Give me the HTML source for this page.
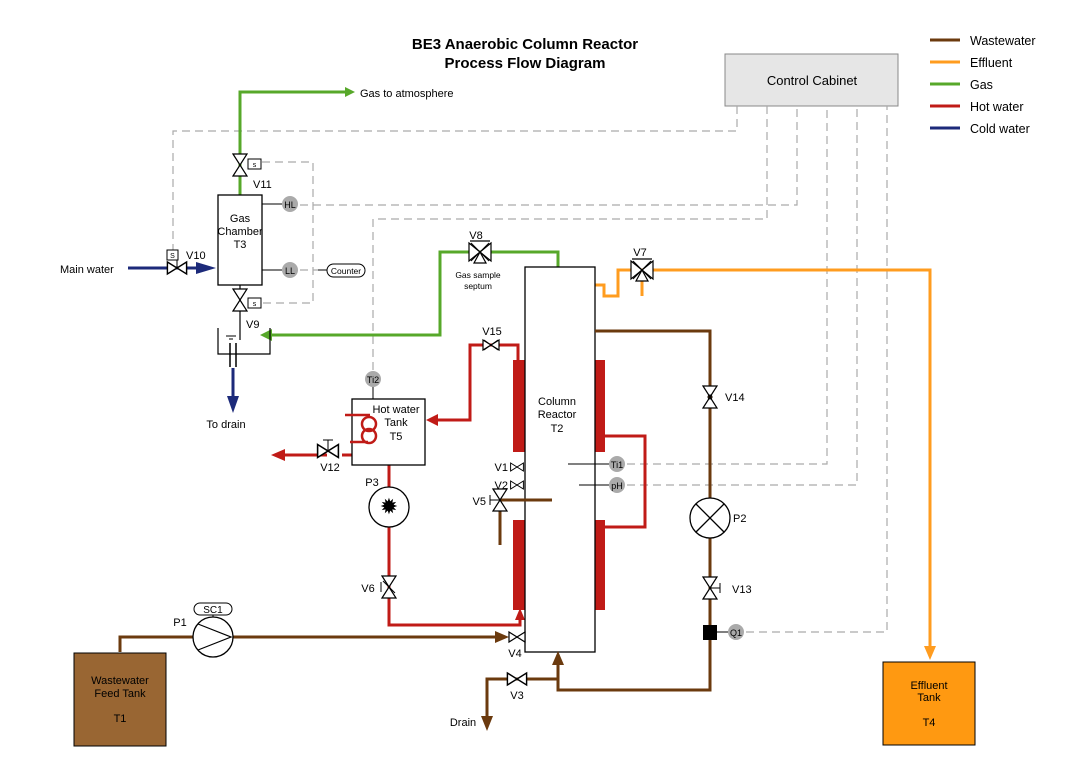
<!DOCTYPE html>
<html><head><meta charset="utf-8"><style>
body{margin:0;background:#fff}
svg{display:block;font-family:"Liberation Sans",Arial,sans-serif}
</style></head><body>
<svg width="1088" height="766" viewBox="0 0 1088 766" xmlns="http://www.w3.org/2000/svg">
<defs>
<g id="vh"><polygon points="-8,-5 0,0 -8,5" fill="#fff" stroke="#000" stroke-width="1.2"/><polygon points="8,-5 0,0 8,5" fill="#fff" stroke="#000" stroke-width="1.2"/></g>
<g id="vv"><polygon points="-7,-11 0,0 7,-11" fill="#fff" stroke="#000" stroke-width="1.2"/><polygon points="-7,11 0,0 7,11" fill="#fff" stroke="#000" stroke-width="1.2"/></g>
<g id="v3"><polygon points="-11,-9 0,0 -11,9" fill="#fff" stroke="#000" stroke-width="1.2"/><polygon points="11,-9 0,0 11,9" fill="#fff" stroke="#000" stroke-width="1.2"/><polygon points="-6,11 0,0 6,11" fill="#fff" stroke="#000" stroke-width="1.2"/><line x1="-10" y1="-11" x2="10" y2="-11" stroke="#000" stroke-width="1.2"/><line x1="-9" y1="-9" x2="9" y2="9" stroke="#000"/><line x1="9" y1="-9" x2="-9" y2="9" stroke="#000"/></g>
</defs>
<rect width="1088" height="766" fill="#fff"/>
<text x="525" y="49" font-size="15" font-weight="bold" text-anchor="middle">BE3 Anaerobic Column Reactor</text>
<text x="525" y="68" font-size="15" font-weight="bold" text-anchor="middle">Process Flow Diagram</text>
<g stroke-width="3">
<line x1="930" y1="40" x2="960" y2="40" stroke="#6b3a0e"/>
<line x1="930" y1="62" x2="960" y2="62" stroke="#ff9c1f"/>
<line x1="930" y1="84" x2="960" y2="84" stroke="#57a82a"/>
<line x1="930" y1="106" x2="960" y2="106" stroke="#c01b17"/>
<line x1="930" y1="128" x2="960" y2="128" stroke="#1c2a7a"/>
</g>
<g font-size="12.5"><text x="970" y="45">Wastewater</text><text x="970" y="67">Effluent</text><text x="970" y="89">Gas</text><text x="970" y="111">Hot water</text><text x="970" y="133">Cold water</text></g>
<rect x="725" y="54" width="173" height="52" fill="#e6e6e6" stroke="#888"/>
<text x="812" y="85" font-size="13" text-anchor="middle">Control Cabinet</text>
<g fill="none" stroke="#aaa" stroke-width="1.2" stroke-dasharray="8,5">
<polyline points="737,106 737,131 173,131 173,250"/>
<polyline points="262,162 313,162 313,303 262,303"/>
<polyline points="300,205 797,205 797,106"/>
<polyline points="767,106 767,219 373,219 373,370"/>
<polyline points="300,270 318,270"/>
<polyline points="627,464 827,464 827,106"/>
<polyline points="627,485 857,485 857,106"/>
<polyline points="746,632 887,632 887,106"/>
</g>
<g fill="none" stroke="#57a82a" stroke-width="3">
<polyline points="240,195 240,92 345,92"/>
<polyline points="558,267 558,252 440,252 440,335 270,335"/>
</g>
<polygon points="345,87 355,92 345,97" fill="#57a82a"/>
<polygon points="272,329 260,335 272,341" fill="#57a82a"/>
<text x="360" y="97" font-size="11">Gas to atmosphere</text>
<rect x="218" y="195" width="44" height="90" fill="#fff" stroke="#000" stroke-width="1.3"/>
<text x="240" y="222" font-size="11" text-anchor="middle">Gas</text>
<text x="240" y="235" font-size="11" text-anchor="middle">Chamber</text>
<text x="240" y="248" font-size="11" text-anchor="middle">T3</text>
<line x1="262" y1="204" x2="282" y2="204" stroke="#000"/>
<line x1="262" y1="270" x2="282" y2="270" stroke="#000"/>
<circle cx="290" cy="204" r="8" fill="#aaa"/><text x="290" y="208" font-size="9" text-anchor="middle">HL</text>
<circle cx="290" cy="270" r="8" fill="#aaa"/><text x="290" y="274" font-size="9" text-anchor="middle">LL</text>
<line x1="318" y1="270" x2="328" y2="270" stroke="#000"/>
<rect x="327" y="264" width="38" height="13" rx="6.5" fill="#fff" stroke="#000"/><text x="346" y="274" font-size="8.5" text-anchor="middle">Counter</text>
<use href="#vv" x="240" y="165"/>
<rect x="248" y="159" width="13" height="10" fill="#fff" stroke="#000"/><text x="254.5" y="167" font-size="7" text-anchor="middle">s</text>
<text x="253" y="188" font-size="11">V11</text>
<line x1="240" y1="285" x2="240" y2="340" stroke="#000" stroke-width="1.2"/>
<use href="#vv" x="240" y="300"/>
<rect x="248" y="298" width="13" height="10" fill="#fff" stroke="#000"/><text x="254.5" y="306" font-size="7" text-anchor="middle">s</text>
<text x="246" y="328" font-size="11">V9</text>
<line x1="128" y1="268" x2="206" y2="268" stroke="#1c2a7a" stroke-width="3"/>
<polygon points="196,262 216,268 196,274" fill="#1c2a7a"/>
<g transform="translate(177,268) scale(1.2)"><use href="#vh"/></g>
<line x1="177" y1="268" x2="177" y2="260" stroke="#000"/>
<rect x="167" y="250" width="11" height="10" fill="#fff" stroke="#000"/><text x="172.5" y="258" font-size="7" text-anchor="middle">S</text>
<text x="186" y="259" font-size="11">V10</text>
<text x="60" y="273" font-size="11">Main water</text>
<polyline points="218,328 218,354 270,354 270,328" fill="none" stroke="#000" stroke-width="1.2"/>
<line x1="226" y1="336" x2="236" y2="336" stroke="#000"/>
<line x1="229" y1="339" x2="233" y2="339" stroke="#000"/>
<line x1="230" y1="343" x2="230" y2="367" stroke="#000" stroke-width="1.5"/>
<line x1="236" y1="343" x2="236" y2="367" stroke="#000" stroke-width="1.5"/>
<line x1="233" y1="368" x2="233" y2="400" stroke="#1c2a7a" stroke-width="3"/>
<polygon points="227,396 233,413 239,396" fill="#1c2a7a"/>
<text x="226" y="428" font-size="11" text-anchor="middle">To drain</text>
<use href="#v3" x="480" y="252"/>
<text x="476" y="239" font-size="11" text-anchor="middle">V8</text>
<text x="478" y="278" font-size="8.5" text-anchor="middle">Gas sample</text>
<text x="478" y="289" font-size="8.5" text-anchor="middle">septum</text>
<polyline points="595,285 604,285 604,296 618,296 618,270 930,270 930,648" fill="none" stroke="#ff9c1f" stroke-width="3"/>
<line x1="642" y1="270" x2="642" y2="296" stroke="#ff9c1f" stroke-width="3"/>
<polygon points="924,646 930,660 936,646" fill="#ff9c1f"/>
<use href="#v3" x="642" y="270"/>
<text x="640" y="256" font-size="11" text-anchor="middle">V7</text>
<g fill="none" stroke="#c01b17" stroke-width="3">
<polyline points="518,360 518,345 470,345 470,420 438,420"/>
<polyline points="605,436 645,436 645,527 605,527"/>
<polyline points="327,455 285,455"/>
<line x1="342" y1="455" x2="352" y2="455"/>
<polyline points="389,465 389,487"/>
<polyline points="389,527 389,625 520,625 520,618"/>
</g>
<polygon points="438,414 426,420 438,426" fill="#c01b17"/>
<polygon points="285,449 271,455 285,461" fill="#c01b17"/>
<polygon points="515,620 520,608 525,620" fill="#c01b17"/>
<rect x="513" y="360" width="12" height="92" fill="#c01b17"/>
<rect x="513" y="520" width="12" height="90" fill="#c01b17"/>
<rect x="593" y="360" width="12" height="92" fill="#c01b17"/>
<rect x="593" y="520" width="12" height="90" fill="#c01b17"/>
<use href="#vh" x="491" y="345"/><line x1="484" y1="340" x2="498" y2="350" stroke="#000"/><line x1="498" y1="340" x2="484" y2="350" stroke="#000"/>
<text x="492" y="335" font-size="11" text-anchor="middle">V15</text>
<rect x="352" y="399" width="73" height="66" fill="#fff" stroke="#000" stroke-width="1.3"/>
<text x="396" y="413" font-size="11" text-anchor="middle">Hot water</text>
<text x="396" y="426" font-size="11" text-anchor="middle">Tank</text>
<text x="396" y="440" font-size="11" text-anchor="middle">T5</text>
<g fill="none" stroke="#c01b17" stroke-width="2.5"><circle cx="369" cy="424" r="7"/><circle cx="369" cy="436" r="7"/><line x1="345" y1="415" x2="370" y2="415"/><line x1="350" y1="442" x2="368" y2="442"/></g>
<line x1="373" y1="386" x2="373" y2="399" stroke="#000"/>
<circle cx="373" cy="379" r="8" fill="#aaa"/><text x="373" y="383" font-size="9" text-anchor="middle">Ti2</text>
<g transform="translate(328,451) scale(1.3)"><use href="#vh"/></g><line x1="328" y1="451" x2="328" y2="440" stroke="#000"/><line x1="323" y1="440" x2="333" y2="440" stroke="#000"/>
<text x="330" y="471" font-size="11" text-anchor="middle">V12</text>
<circle cx="389" cy="507" r="20" fill="#fff" stroke="#000" stroke-width="1.3"/>
<text x="389" y="514" font-size="22" text-anchor="middle">✹</text>
<text x="372" y="486" font-size="11" text-anchor="middle">P3</text>
<use href="#vv" x="389" y="587"/><line x1="381" y1="582" x2="381" y2="592" stroke="#000"/><line x1="383" y1="581" x2="395" y2="593" stroke="#000"/>
<text x="368" y="592" font-size="11" text-anchor="middle">V6</text>
<rect x="525" y="267" width="70" height="385" fill="#fff" stroke="#000" stroke-width="1.3"/>
<text x="557" y="405" font-size="11" text-anchor="middle">Column</text>
<text x="557" y="418" font-size="11" text-anchor="middle">Reactor</text>
<text x="557" y="432" font-size="11" text-anchor="middle">T2</text>
<line x1="568" y1="464" x2="609" y2="464" stroke="#000"/>
<line x1="579" y1="485" x2="609" y2="485" stroke="#000"/>
<circle cx="617" cy="464" r="8" fill="#aaa"/><text x="617" y="468" font-size="9" text-anchor="middle">Ti1</text>
<circle cx="617" cy="485" r="8" fill="#aaa"/><text x="617" y="489" font-size="9" text-anchor="middle">pH</text>
<g transform="translate(517,467) scale(0.8)"><use href="#vh"/></g><text x="508" y="471" font-size="11" text-anchor="end">V1</text>
<g transform="translate(517,485) scale(0.8)"><use href="#vh"/></g><text x="508" y="489" font-size="11" text-anchor="end">V2</text>
<line x1="500" y1="500" x2="552" y2="500" stroke="#6b3a0e" stroke-width="3"/>
<line x1="500" y1="506" x2="500" y2="545" stroke="#6b3a0e" stroke-width="3"/>
<use href="#vv" x="500" y="500"/><line x1="490" y1="500" x2="500" y2="500" stroke="#000"/><line x1="490" y1="495" x2="490" y2="505" stroke="#000"/>
<text x="486" y="505" font-size="11" text-anchor="end">V5</text>
<g fill="none" stroke="#6b3a0e" stroke-width="3">
<polyline points="595,331 710,331 710,690 558,690 558,664"/>
<polyline points="558,679 487,679 487,718"/>
<polyline points="120,652 120,637 193,637"/>
<polyline points="233,637 497,637"/>
</g>
<polygon points="552,665 558,651 564,665" fill="#6b3a0e"/>
<polygon points="481,716 487,731 493,716" fill="#6b3a0e"/>
<polygon points="495,631 509,637 495,643" fill="#6b3a0e"/>
<use href="#vh" x="517" y="637"/><text x="515" y="657" font-size="11" text-anchor="middle">V4</text>
<g transform="translate(517,679) scale(1.2)"><use href="#vh"/></g><text x="517" y="699" font-size="11" text-anchor="middle">V3</text>
<text x="463" y="726" font-size="11" text-anchor="middle">Drain</text>
<use href="#vv" x="710" y="397"/><circle cx="710" cy="397" r="2" fill="none" stroke="#000"/>
<text x="725" y="401" font-size="11">V14</text>
<circle cx="710" cy="518" r="20" fill="#fff" stroke="#000" stroke-width="1.3"/>
<line x1="696" y1="504" x2="724" y2="532" stroke="#000" stroke-width="1.3"/><line x1="724" y1="504" x2="696" y2="532" stroke="#000" stroke-width="1.3"/>
<text x="733" y="522" font-size="11">P2</text>
<use href="#vv" x="710" y="588"/><line x1="710" y1="588" x2="720" y2="588" stroke="#000"/><line x1="720" y1="583" x2="720" y2="593" stroke="#000"/>
<text x="732" y="593" font-size="11">V13</text>
<rect x="703" y="625" width="14" height="15" fill="#000"/>
<line x1="717" y1="632" x2="728" y2="632" stroke="#000"/>
<circle cx="736" cy="632" r="8" fill="#aaa"/><text x="736" y="636" font-size="9" text-anchor="middle">Q1</text>
<circle cx="213" cy="637" r="20" fill="#fff" stroke="#000" stroke-width="1.3"/>
<polyline points="198,624 231,637 198,650" fill="none" stroke="#000" stroke-width="1.2"/>
<line x1="213" y1="617" x2="213" y2="614" stroke="#000"/>
<rect x="194" y="603" width="38" height="12" rx="6" fill="#fff" stroke="#000"/><text x="213" y="613" font-size="10" text-anchor="middle">SC1</text>
<text x="180" y="626" font-size="11" text-anchor="middle">P1</text>
<rect x="74" y="653" width="92" height="93" fill="#996633" stroke="#000"/>
<text x="120" y="684" font-size="11" text-anchor="middle">Wastewater</text>
<text x="120" y="697" font-size="11" text-anchor="middle">Feed Tank</text>
<text x="120" y="722" font-size="11" text-anchor="middle">T1</text>
<rect x="883" y="662" width="92" height="83" fill="#ff9911" stroke="#000"/>
<text x="929" y="689" font-size="11" text-anchor="middle">Effluent</text>
<text x="929" y="701" font-size="11" text-anchor="middle">Tank</text>
<text x="929" y="726" font-size="11" text-anchor="middle">T4</text>
</svg>
</body></html>
